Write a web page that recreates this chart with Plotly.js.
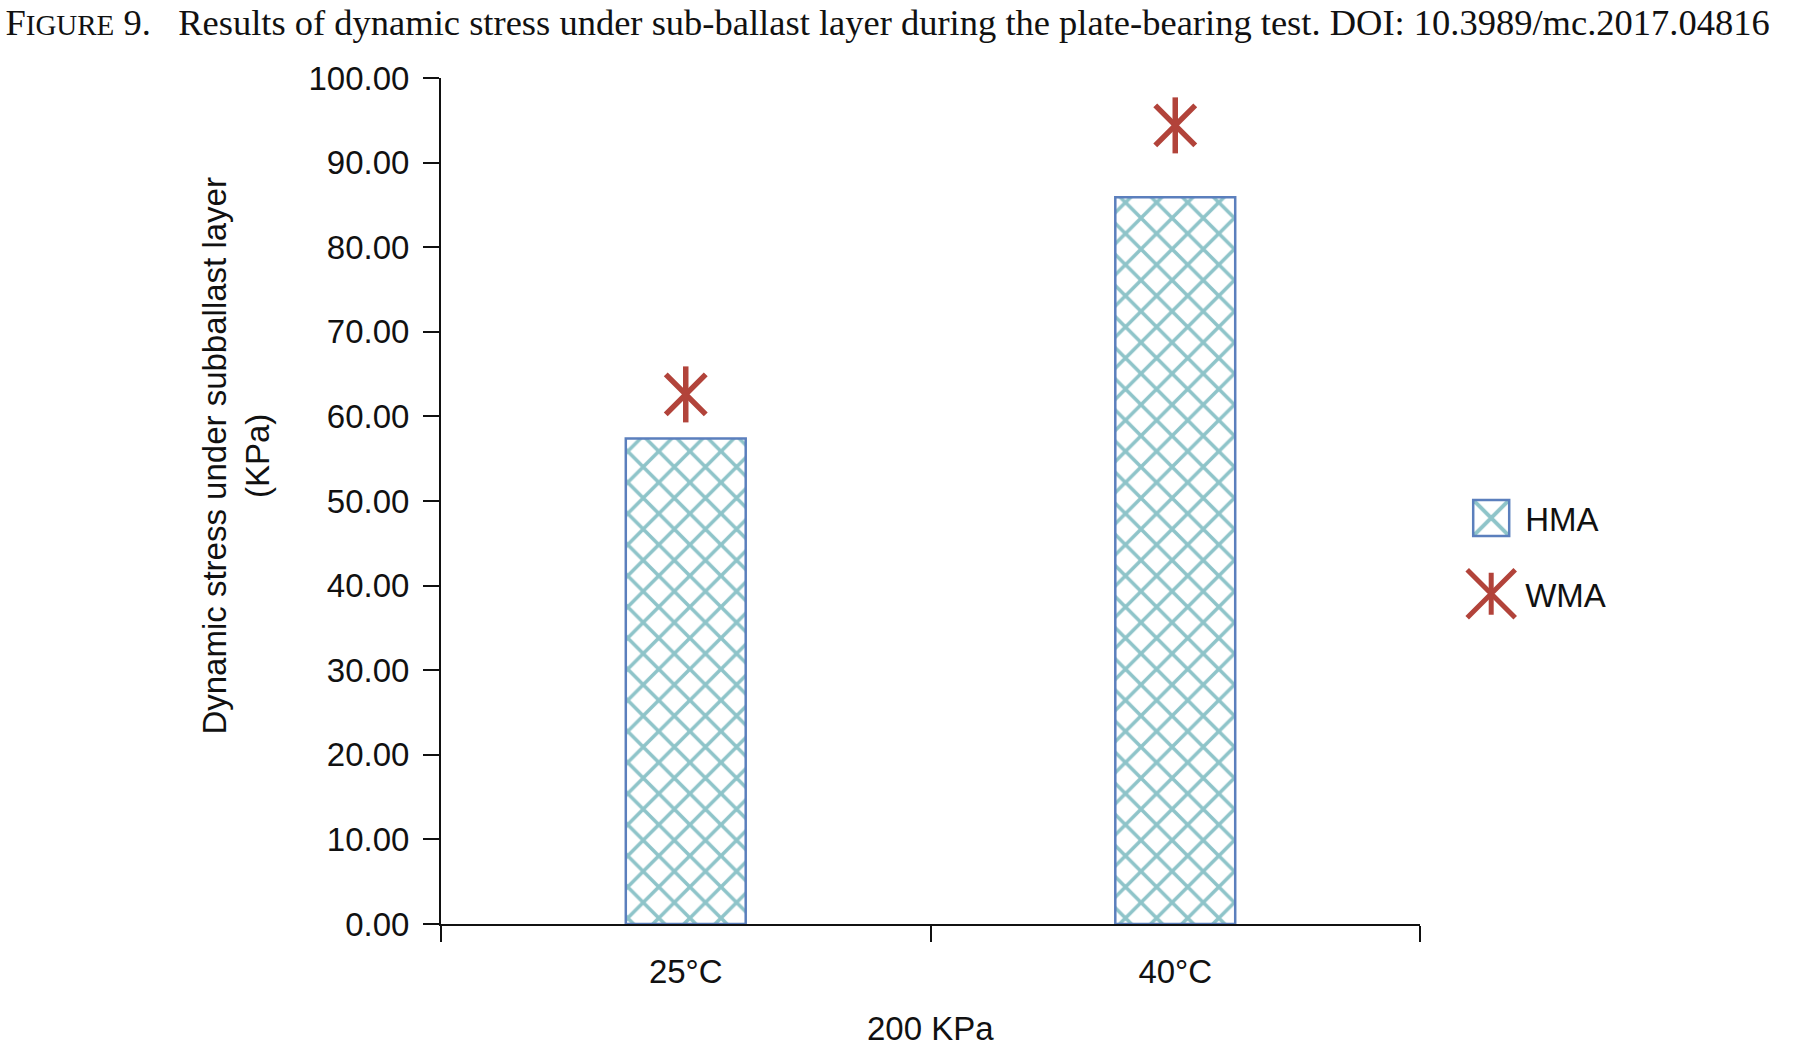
<!DOCTYPE html>
<html>
<head>
<meta charset="utf-8">
<script src="https://cdn.plot.ly/plotly-3.0.1.min.js"></script>
<style>html,body{margin:0;padding:0;background:#fff;}</style>
</head>
<body>
<div id="chart" style="width:1808px;height:1048px;"></div>
<script>
// Data
const categories = ["25°C", "40°C"];
const hmaValues = [57.4, 85.9];
const wmaValues = [62.6, 94.4];
const yTickValues = [0, 10, 20, 30, 40, 50, 60, 70, 80, 90, 100];
const seriesNames = ["HMA", "WMA"];
const xTitle = "200 KPa";
const yTitle = "Dynamic stress under subballast layer<br>(KPa)";

const FONT = "Liberation Sans, Arial, sans-serif";
const RED = "#b2433a";
const FS = 33;

const traces = [
  {
    type: "bar",
    name: seriesNames[0],
    x: categories,
    y: hmaValues,
    width: 0.245,
    legendgroup: "hma",
    marker: {
      color: "white",
      line: {color: "#5b7fbd", width: 2.5},
      pattern: {shape: "x", fgcolor: "#8ec4c9", bgcolor: "white", size: 22, solidity: 0.3}
    },
    hoverinfo: "x+y"
  },
  {
    type: "scatter",
    mode: "markers",
    name: seriesNames[1],
    x: categories,
    y: wmaValues,
    legendgroup: "wma",
    marker: {symbol: "x-thin-open", size: 40, color: RED, line: {color: RED, width: 5.5}},
    hoverinfo: "x+y"
  },
  {
    type: "scatter",
    mode: "markers",
    name: seriesNames[1],
    x: categories,
    y: wmaValues,
    legendgroup: "wma",
    showlegend: false,
    marker: {symbol: "line-ns-open", size: 40, color: RED, line: {color: RED, width: 5.5}},
    hoverinfo: "skip"
  }
];

const layout = {
  width: 1808,
  height: 1048,
  paper_bgcolor: "white",
  plot_bgcolor: "white",
  margin: {l: 441, r: 388, t: 78, b: 124, pad: 0},
  font: {family: FONT, size: FS, color: "#111"},
  showlegend: true,
  title: {
    text: "F<span style='font-size:29px'>IGURE</span> 9.\u00a0\u00a0 Results of dynamic stress under sub-ballast layer during the plate-bearing test. DOI: 10.3989/mc.2017.04816",
    font: {family: "Liberation Serif, Times New Roman, serif", size: 36.5, color: "#111"},
    xref: "container", yref: "container",
    x: 0.003, xanchor: "left",
    y: 0.991, yanchor: "top",
    pad: {t: 0, l: 0}
  },
  xaxis: {
    type: "category",
    showline: true, linecolor: "#111", linewidth: 2,
    ticks: "outside", ticklen: 16, tickwidth: 2, tickcolor: "#111",
    tickson: "boundaries",
    ticklabelstandoff: 17,
    showgrid: false, zeroline: false,
    tickfont: {family: FONT, size: FS, color: "#111"}
  },
  yaxis: {
    range: [0, 100],
    tickvals: yTickValues,
    tickformat: ".2f",
    showline: true, linecolor: "#111", linewidth: 2,
    ticks: "outside", ticklen: 16, tickwidth: 2, tickcolor: "#111",
    ticklabelstandoff: 7,
    showgrid: false, zeroline: false,
    tickfont: {family: FONT, size: FS, color: "#111"}
  },
  legend: {
    x: 1.038, xanchor: "left",
    y: 0.435, yanchor: "middle",
    font: {family: FONT, size: FS, color: "#111"},
    itemwidth: 58,
    traceorder: "grouped",
    tracegroupgap: 30,
    bgcolor: "rgba(0,0,0,0)",
    borderwidth: 0
  },
  annotations: [
    {
      text: yTitle,
      xref: "paper", yref: "paper",
      x: -0.252, y: 0.554,
      textangle: -90,
      showarrow: false,
      font: {family: FONT, size: FS, color: "#111"},
      align: "center"
    },
    {
      text: xTitle,
      xref: "paper", yref: "paper",
      x: 0.5, y: -0.124,
      xanchor: "center", yanchor: "middle",
      showarrow: false,
      font: {family: FONT, size: FS, color: "#111"}
    }
  ]
};

function tweakLegend() {
  const gd = document.getElementById("chart");
  const items = gd.querySelectorAll(".legend .traces");
  items.forEach(function(item) {
    const pts = item.querySelectorAll(".legendpoints path");
    pts.forEach(function(p) {
      if (p.getAttribute("data-tweaked")) return;
      const tr = p.getAttribute("transform") || "";
      p.setAttribute("transform", tr + " scale(3.0)");
      p.style.vectorEffect = "non-scaling-stroke";
      p.setAttribute("vector-effect", "non-scaling-stroke");
      p.setAttribute("data-tweaked", "1");
      if (p.classList.contains("scatterpts")) {
        const v = p.cloneNode(true);
        v.setAttribute("d", "M0,-7V7");
        p.parentNode.appendChild(v);
      }
    });
  });
}

Plotly.newPlot("chart", traces, layout, {displayModeBar: false, staticPlot: true}).then(function(gd) {
  tweakLegend();
  gd.on("plotly_afterplot", tweakLegend);
});
</script>
</body>
</html>
